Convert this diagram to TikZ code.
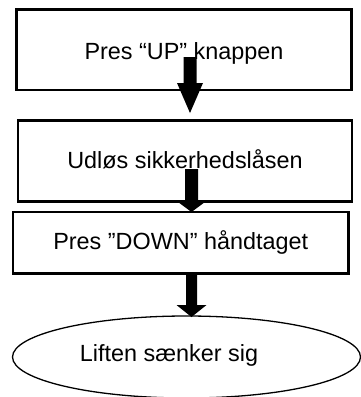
\documentclass[tikz,border=0pt]{standalone}
\usepackage{fontspec}
\setmainfont{Liberation Sans}
\usetikzlibrary{calc,shapes.geometric}
\newcommand\blockarr[5]{%
  \fill[black] let \p1=(#1), \p2=(#2) in
    (\x1-#3,\y1) -- (\x1+#3,\y1) -- (\x1+#3,\y2+#5) -- (\x1+#4,\y2+#5)
    -- (\x2,\y2) -- (\x1-#4,\y2+#5) -- (\x1-#3,\y2+#5) -- cycle;}
\begin{document}
\begin{tikzpicture}[x=1pt,y=-1pt,
  every node/.style={font=\fontsize{23.4}{28}\selectfont, inner sep=0pt, text depth=0pt},
  box/.style={draw, line width=2.2pt, fill=white, rectangle},
  oval/.style={draw, line width=1.3pt, fill=white, ellipse}]
\useasboundingbox (0,0) rectangle (361,397);
\node[box, minimum width=335pt, minimum height=80.5pt, text height=19.4pt] (b1) at (184,49.75) {Pres “UP” knappen};
\node[box, minimum width=334pt, minimum height=81pt, text height=16.5pt, text depth=1.4pt] (b2) at (185,161) {Udløs sikkerhedslåsen};
\node[box, minimum width=335.5pt, minimum height=61.5pt, text height=16.5pt, text depth=3.5pt] (b3) at (180.75,242.75) {Pres ”DOWN” håndtaget};
\node[oval, minimum width=348pt, minimum height=82pt, text height=16.5pt, text depth=8pt] (e1) at (186.5,357) {\hspace*{-35pt}Liften sænker sig};
\coordinate (a1s) at (190,57);
\coordinate (a1e) at (190,113);
\coordinate (a2s) at (191.5,169);
\coordinate (a2e) at (191.5,212);
\coordinate (a3s) at (191.5,273.5);
\coordinate (a3e) at (191.5,317);
\blockarr{a1s}{a1e}{6.5pt}{13pt}{30pt}
\blockarr{a2s}{a2e}{6.5pt}{13.5pt}{10pt}
\blockarr{a3s}{a3e}{5.5pt}{15pt}{12pt}
\end{tikzpicture}
\end{document}
